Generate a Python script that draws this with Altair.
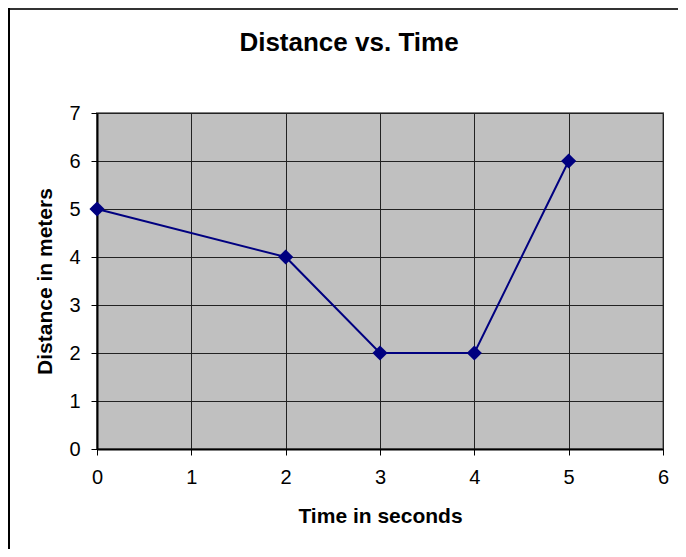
import altair as alt
import pandas as pd

# Data
time_s = [0, 2, 3, 4, 5]
distance_m = [5, 4, 2, 2, 6]
x_ticks = [0, 1, 2, 3, 4, 5, 6]
y_ticks = [0, 1, 2, 3, 4, 5, 6, 7]
chart_title = "Distance vs. Time"

df = pd.DataFrame({"time": time_s, "distance": distance_m})

FONT = "Liberation Sans"
W, H = 566, 336
PAD_L, PAD_T = 89, 105
PAD_R = 670 - PAD_L - W
PAD_B = 541 - PAD_T - H

x_enc = alt.X(
    "time:Q",
    scale=alt.Scale(domain=[0, 6], nice=False, zero=False),
    axis=alt.Axis(
        values=x_ticks, title="Time in seconds", format="d",
        grid=True, gridColor="#222222", gridWidth=1,
        domainColor="#000000", domainWidth=2,
        tickColor="#000000", tickSize=6, tickWidth=1,
        labelFont=FONT, labelFontSize=20, labelColor="#000000", labelPadding=12,
        titleFont=FONT, titleFontSize=21, titleFontWeight="bold", titleColor="#000000",
        titlePadding=18, labelFlush=False,
    ),
)
y_enc = alt.Y(
    "distance:Q",
    scale=alt.Scale(domain=[0, 7], nice=False),
    axis=alt.Axis(
        values=y_ticks, title="Distance in meters", format="d",
        grid=True, gridColor="#222222", gridWidth=1,
        domainColor="#000000", domainWidth=2,
        tickColor="#000000", tickSize=6, tickWidth=1,
        labelFont=FONT, labelFontSize=20, labelColor="#000000", labelPadding=11,
        titleFont=FONT, titleFontSize=21, titleFontWeight="bold", titleColor="#000000",
        titlePadding=13, labelFlush=False,
    ),
)

line = alt.Chart(df).mark_line(color="#000080", strokeWidth=2).encode(x=x_enc, y=y_enc)
pts = alt.Chart(df).mark_point(
    shape="diamond", filled=True, color="#000080", size=230, opacity=1
).encode(x="time:Q", y="distance:Q")

one = alt.Data(values=[{"label": chart_title}])
title_txt = alt.Chart(one).mark_text(
    font=FONT, fontSize=26, fontWeight="bold", color="#000000",
    align="center", baseline="alphabetic",
).encode(x=alt.value(252), y=alt.value(-62), text="label:N")

top_border = alt.Chart(one).mark_rule(color="#333333", strokeWidth=2).encode(
    x=alt.value(-PAD_L), x2=alt.value(W + PAD_R + 5), y=alt.value(-PAD_T + 1)
)
left_border = alt.Chart(one).mark_rule(color="#000000", strokeWidth=2).encode(
    x=alt.value(-PAD_L + 1), y=alt.value(-PAD_T), y2=alt.value(H + PAD_B + 5)
)

chart = (
    alt.layer(line, pts, title_txt, top_border, left_border)
    .properties(
        width=W,
        height=H,
        autosize=alt.AutoSizeParams(type="none"),
        padding={"left": PAD_L, "top": PAD_T, "right": PAD_R, "bottom": PAD_B},
        background="#ffffff",
    )
    .configure_view(fill="#C0C0C0", stroke="#808080", strokeWidth=2)
)

chart.save("out.html", embed_options={"renderer": "svg", "actions": False})
